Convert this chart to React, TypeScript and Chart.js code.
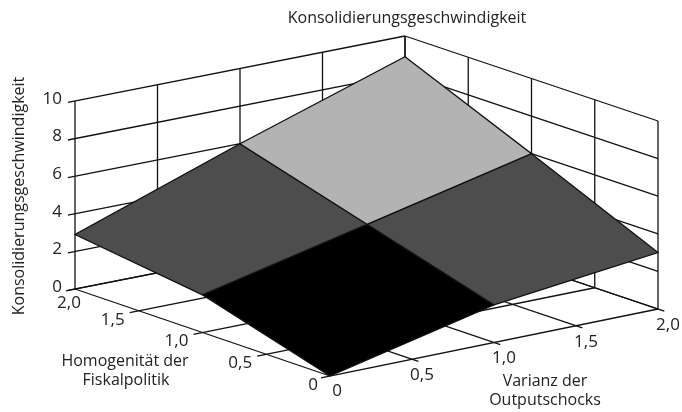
import React, { useEffect, useRef } from "react";
import { Chart, registerables } from "chart.js";

Chart.register(...registerables);

const title = "Konsolidierungsgeschwindigkeit";
const xTitle = ["Varianz der", "Outputschocks"];
const yTitle = ["Homogenität der", "Fiskalpolitik"];
const zTitle = "Konsolidierungsgeschwindigkeit";

const xTicks = [0, 0.5, 1, 1.5, 2];
const yTicks = [0, 0.5, 1, 1.5, 2];
const zTicks = [0, 2, 4, 6, 8, 10];
const xGrid = [0, 1, 2];
const yGrid = [0, 1, 2];
// surface height, rows by Homogenität (0, 1, 2), columns by Varianz (0, 1, 2)
const surface = [
  [0, 2, 3],
  [2, 4, 6],
  [2.9, 6, 8.9],
];
const cellColours = [
  ["#000000", "#4d4d4d"],
  ["#4d4d4d", "#b3b3b3"],
];

const INK = "#111111";
const FONT = '"Open Sans", sans-serif';

// Oblique projection of the 3D box on the flat chart plane
function project(v: number, h: number, z: number) {
  const a = v / 2;
  const b = h / 2;
  const px = (1 - a) * (1 - b) * 330 + a * (1 - b) * 658 + (1 - a) * b * 75 + a * b * 405;
  const py = (1 - a) * (1 - b) * 376 + a * (1 - b) * 309 + (1 - a) * b * 289 + a * b * 224;
  return { x: px, y: py - z * 18.8 };
}

function line(points: number[][], width = 1.3) {
  return {
    data: points.map((p) => project(p[0], p[1], p[2])),
    showLine: true,
    pointRadius: 0,
    borderColor: INK,
    borderWidth: width,
    fill: false,
    tension: 0,
  };
}

function buildDatasets() {
  const out: any[] = [];
  let order = 1000;
  const push = (d: any) => out.push({ ...d, order: order-- });
  // wall height lines
  for (const z of zTicks) {
    push(line([[-0.043, 2, z], [2, 2, z]]));
    push(line([[2, 2, z], [2, 0, z]]));
  }
  // wall verticals
  for (const t of xTicks) {
    push(line([[t, 2, 0], [t, 2, 10]]));
  }
  for (const t of yTicks) {
    push(line([[2, t, 0], [2, t, 10]]));
  }
  // floor lines with their tick stubs
  for (const t of yTicks) {
    push(line([[-0.055, t, 0], [2, t, 0]]));
  }
  for (const t of xTicks.slice(1)) {
    push(line([[t, -0.05, 0], [t, 2, 0]]));
  }
  push(line([[0, 0, 0], [0, 2, 0]]));
  // surface cells
  for (let i = 0; i < yGrid.length - 1; i++) {
    for (let j = 0; j < xGrid.length - 1; j++) {
      const pts = [
        [xGrid[j], yGrid[i], surface[i][j]],
        [xGrid[j + 1], yGrid[i], surface[i][j + 1]],
        [xGrid[j + 1], yGrid[i + 1], surface[i + 1][j + 1]],
        [xGrid[j], yGrid[i + 1], surface[i + 1][j]],
        [xGrid[j], yGrid[i], surface[i][j]],
      ];
      push({ ...line(pts), fill: "shape", backgroundColor: cellColours[i][j] });
    }
  }
  return out;
}

const labelPlugin = {
  id: "labels3d",
  afterDraw(chart: any) {
    const { ctx } = chart;
    const sx = chart.scales.x;
    const sy = chart.scales.y;
    const put = (t: string, x: number, y: number, size: number, rot = 0) => {
      ctx.save();
      ctx.translate(x, y);
      ctx.rotate(rot);
      ctx.font = `${size}px ${FONT}`;
      ctx.fillStyle = "#222222";
      ctx.textAlign = "center";
      ctx.textBaseline = "middle";
      ctx.fillText(t, 0, 0);
      ctx.restore();
    };
    const fmt = (t: number) => (t === 0 ? "0" : t.toFixed(1).replace(".", ","));
    const at = (p: { x: number; y: number }) => ({
      x: sx.getPixelForValue(p.x),
      y: sy.getPixelForValue(p.y),
    });
    for (const z of zTicks) {
      const p = at(project(0, 2, z));
      const s = String(z);
      ctx.font = `17px ${FONT}`;
      const w = ctx.measureText(s).width;
      put(s, p.x - 13 - w / 2, p.y - 2, 17);
    }
    for (const t of yTicks) {
      const p = at(project(0, t, 0));
      put(fmt(t), p.x + (t === 0 ? -17 : -26 + (t === 2 ? 20 : 0)), p.y + (t === 0 ? 9 : 9 + (t === 2 ? 5 : 0)), 17);
    }
    for (const t of xTicks) {
      const p = at(project(t, 0, 0));
      put(fmt(t), p.x + (t === 0 ? 7 : 10), p.y + (t === 0 ? 15 : 16), 17);
    }
    put(title, 407, 18, 16);
    put(zTitle, 19, 196, 16, -Math.PI / 2);
    put(yTitle[0], 125, 361, 16);
    put(yTitle[1], 126, 380, 16);
    put(xTitle[0], 545, 381, 16);
    put(xTitle[1], 545, 400, 16);
  },
};

export default function App() {
  const ref = useRef<HTMLCanvasElement>(null);
  useEffect(() => {
    document.body.style.margin = "0";
    document.body.style.background = "#ffffff";
    const chart = new Chart(ref.current!, {
      type: "scatter",
      data: { datasets: buildDatasets() },
      options: {
        animation: false,
        responsive: false,
        layout: { padding: 0 },
        plugins: { legend: { display: false }, tooltip: { enabled: false }, title: { display: false } },
        scales: {
          x: { type: "linear", min: 0, max: 682, display: false },
          y: { type: "linear", min: 0, max: 412, reverse: true, display: false },
        },
      },
      plugins: [labelPlugin],
    } as any);
    return () => chart.destroy();
  }, []);
  return <canvas ref={ref} width={682} height={412} style={{ display: "block" }} />;
}
